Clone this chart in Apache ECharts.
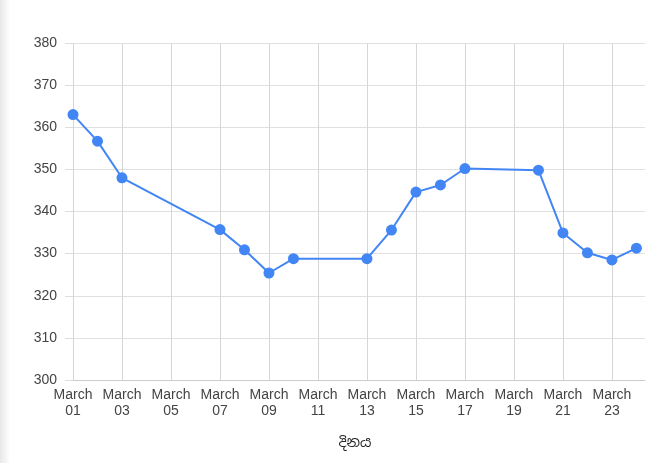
<!DOCTYPE html>
<html>
<head>
<meta charset="utf-8">
<script src="https://cdn.jsdelivr.net/npm/echarts@6/dist/echarts.min.js"></script>
<style>
html,body{margin:0;padding:0;background:#fff;}
#shade{position:absolute;left:0;top:0;width:10px;height:463px;background:linear-gradient(to right,#e8e8e8,#ffffff);}
#chart{position:absolute;left:0;top:0;width:671px;height:463px;}
</style>
</head>
<body>
<div id="shade"></div>
<div id="chart"></div>
<script>
// Day of March for each point
var days = [1, 2, 3, 7, 8, 9, 10, 13, 14, 15, 16, 17, 20, 21, 22, 23, 24];
var values = [363, 356.7, 348, 335.7, 330.9, 325.4, 328.8, 328.8, 335.6, 344.6, 346.3, 350.2, 349.8, 334.9, 330.2, 328.5, 331.3];
var monthName = 'March';
var xTitle = 'දිනය';
var yTicks = [300, 310, 320, 330, 340, 350, 360, 370, 380];

var chart = echarts.init(document.getElementById('chart'), null, {renderer: 'canvas'});
var font = '"Liberation Sans", Arial, sans-serif';
chart.setOption({
  animation: false,
  grid: {left: 73, right: 26, top: 43, bottom: 83, containLabel: false},
  xAxis: {
    type: 'value',
    min: 1,
    max: 24.35,
    interval: 2,
    name: xTitle,
    nameLocation: 'middle',
    nameGap: 56,
    nameTextStyle: {fontFamily: '"Noto Sans", "Noto Sans Sinhala", sans-serif', fontSize: 14, color: '#222', padding: [0, 8, 0, 0]},
    axisLine: {show: true, lineStyle: {color: '#cccccc', width: 1}},
    axisTick: {show: false},
    axisLabel: {
      showMaxLabel: false,
      margin: 7,
      fontFamily: font, fontSize: 14, color: '#444', lineHeight: 16,
      formatter: function (v) {
        var d = Math.round(v);
        return monthName + '\n' + (d < 10 ? '0' + d : '' + d);
      }
    },
    splitLine: {show: true, showMinLine: true, showMaxLine: false, lineStyle: {color: '#d6d6d6', width: 1}}
  },
  yAxis: {
    type: 'value',
    min: yTicks[0],
    max: yTicks[yTicks.length - 1],
    interval: yTicks[1] - yTicks[0],
    axisLine: {show: false},
    axisTick: {show: true, length: 8, lineStyle: {color: '#dddddd'}},
    axisLabel: {margin: 16, fontFamily: font, fontSize: 14, color: '#444'},
    splitLine: {show: true, lineStyle: {color: '#e0e0e0', width: 1}}
  },
  series: [{
    type: 'line',
    data: days.map(function (d, i) { return [d, values[i]]; }),
    symbol: 'circle',
    symbolSize: 11,
    lineStyle: {color: '#4285f4', width: 2},
    itemStyle: {color: '#4285f4'},
    z: 5
  }]
});
</script>
</body>
</html>
